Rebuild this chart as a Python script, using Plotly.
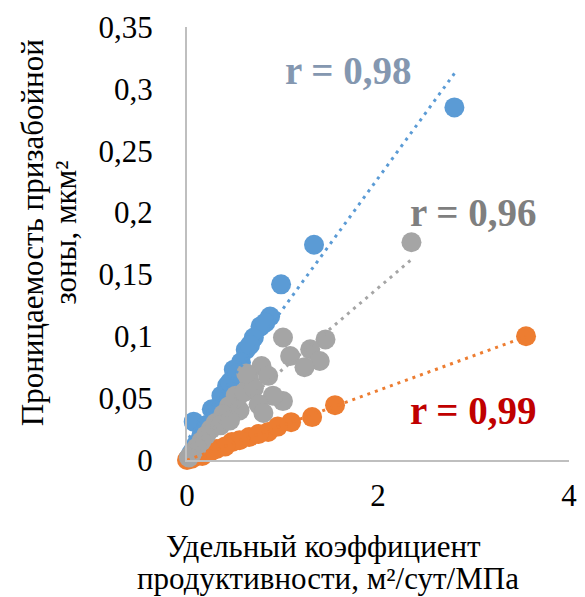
import numpy as np
import plotly.graph_objects as go

# Blue series
blue_x = [0.985, 1.33, 2.80, 0.87, 0.77, 0.70, 0.615, 0.565, 0.49, 0.42, 0.36, 0.26, 0.07,
          0.20, 0.15, 0.10, 0.05, 0.30, 0.45, 0.53, 0.66, 0.82, 0.02]
blue_y = [0.142, 0.174, 0.285, 0.116, 0.108, 0.099, 0.089, 0.079, 0.073, 0.060, 0.052, 0.041, 0.031,
          0.028, 0.020, 0.013, 0.006, 0.040, 0.063, 0.070, 0.093, 0.111, 0.002]

# Grey series
grey_x = [2.35, 1.005, 1.45, 1.08, 1.29, 1.39, 1.23, 0.78, 0.85, 1.005, 0.90, 0.65, 0.51, 0.44,
          0.60, 0.70, 0.38, 0.30, 0.25, 0.20, 0.15, 0.10, 0.05, 0.02, 0.55, 0.75, 0.35, 0.45, 0.62, 0.80]
grey_y = [0.176, 0.099, 0.0975, 0.084, 0.0895, 0.080, 0.075, 0.076, 0.068, 0.0476, 0.052, 0.065, 0.052, 0.0435,
          0.055, 0.058, 0.037, 0.030, 0.025, 0.020, 0.015, 0.010, 0.005, 0.002, 0.040, 0.045, 0.028, 0.032, 0.070, 0.038]

# Orange series
orange_x = [3.55, 1.55, 1.31, 1.09, 0.85, 0.65, 0.47, 0.31, 0.16, 0.0, 0.75, 0.55, 0.40, 0.25, 0.10, 0.05, 0.95]
orange_y = [0.100, 0.0443, 0.0347, 0.0306, 0.0226, 0.0185, 0.0145, 0.0089, 0.0032, 0.0, 0.021, 0.016, 0.011, 0.007, 0.003, 0.001, 0.027]

y_ticks = [0, 0.05, 0.1, 0.15, 0.2, 0.25, 0.3, 0.35]
y_ticklabels = ["0", "0,05", "0,1", "0,15", "0,2", "0,25", "0,3", "0,35"]
x_ticks = [0, 2, 4]
x_ticklabels = ["0", "2", "4"]

x_title = ["Удельный коэффициент", "продуктивности, м²/сут/МПа"]
y_title = ["Проницаемость призабойной", "зоны, мкм²"]
r_labels = ["r = 0,98", "r = 0,96", "r = 0,99"]

BLUE = "#5B9BD5"
ORANGE = "#ED7D31"
GREY = "#A5A5A5"
FONT = "Liberation Serif"
TF = dict(family=FONT, size=31, color="black")

fig = go.Figure()
series = [(blue_x, blue_y, BLUE), (orange_x, orange_y, ORANGE), (grey_x, grey_y, GREY)]
for xs, ys, c in series:
    fig.add_trace(go.Scatter(x=xs, y=ys, mode="markers", cliponaxis=False,
                             marker=dict(size=20, color=c, line=dict(width=0)),
                             showlegend=False, hoverinfo="x+y"))
for xs, ys, c in series:
    a, b = np.polyfit(xs, ys, 1)
    tx = np.array([min(xs), max(xs)])
    fig.add_trace(go.Scatter(x=tx, y=a * tx + b, mode="lines", cliponaxis=False,
                             line=dict(color=c, width=3, dash="3px,5px"),
                             showlegend=False, hoverinfo="skip"))

PW, PH, L, B = 390, 433, 187, 460


def px(xp):
    return (xp - L) / PW


def py(yp):
    return (B - yp) / PH


ann = [
    dict(x=px(326), y=py(546), text=x_title[0]),
    dict(x=px(331), y=py(578), text=x_title[1]),
    dict(x=px(30), y=py(233), text=y_title[0], textangle=-90),
    dict(x=px(63), y=py(233), text=y_title[1], textangle=-90),
]
for a in ann:
    a.update(xref="paper", yref="paper", xanchor="center", yanchor="middle", showarrow=False, font=TF)

for (xp, yp), lab, col in zip([(352, 70), (479, 212), (480, 410)], r_labels, ["#8497B0", "#7F7F7F", "#C00000"]):
    ann.append(dict(xref="paper", yref="paper", x=px(xp), y=py(yp), xanchor="center", yanchor="middle",
                    text="<b>" + lab + "</b>", showarrow=False,
                    font=dict(family=FONT, size=39, color=col)))

fig.update_layout(
    width=585, height=597,
    margin=dict(l=187, r=8, t=27, b=137),
    plot_bgcolor="white", paper_bgcolor="white",
    font=TF,
    xaxis=dict(range=[0, 4], tickvals=x_ticks, ticktext=x_ticklabels, tickfont=TF,
               showgrid=False, zeroline=False, showline=True, linecolor="#BFBFBF", linewidth=2,
               ticks="", ticklabelstandoff=7, ticklabeloverflow="allow", fixedrange=True),
    yaxis=dict(range=[0, 0.35], tickvals=y_ticks, ticktext=y_ticklabels, tickfont=TF,
               showgrid=False, zeroline=False, showline=True, linecolor="#BFBFBF", linewidth=2,
               ticks="", ticklabelstandoff=26, fixedrange=True),
    annotations=ann,
)

fig.write_html("out.html", config={"displayModeBar": False},
               post_script="document.body.style.margin='0';")
